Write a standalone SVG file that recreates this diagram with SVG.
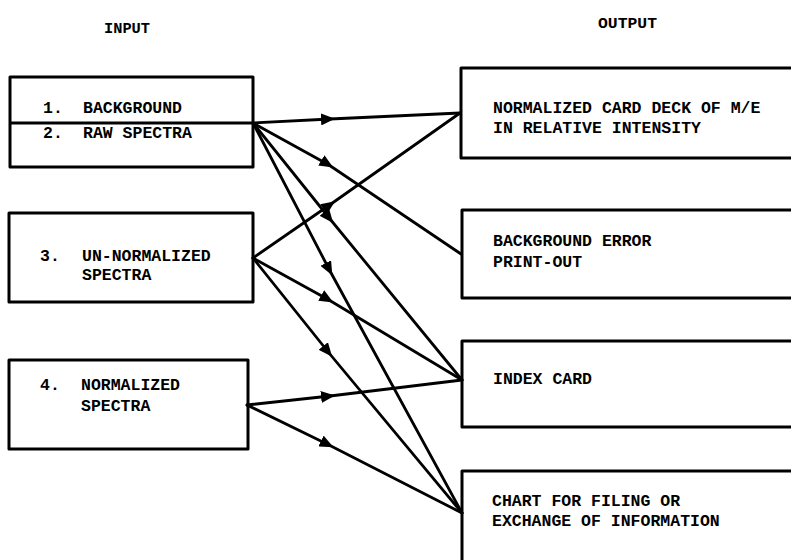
<svg xmlns="http://www.w3.org/2000/svg" width="791" height="560" viewBox="0 0 791 560">
<style>
.box{fill:none;stroke:#000;stroke-width:3;stroke-linejoin:round}
.con{fill:none;stroke:#000;stroke-width:2.8;stroke-linecap:round;marker-mid:url(#arr)}
text{font-family:"Liberation Mono","DejaVu Sans Mono",monospace;font-weight:bold;font-size:16.5px;fill:#000}
.hd{font-size:15px}
</style>
<defs>
<marker id="arr" viewBox="0 0 14 12" refX="9" refY="6" markerWidth="14" markerHeight="12" markerUnits="userSpaceOnUse" orient="auto">
<path d="M0,0 L14,6 L0,12 Z" fill="#000"/>
</marker>
</defs>
<rect width="791" height="560" fill="#fff"/>
<text class="hd" x="104" y="33" textLength="46" lengthAdjust="spacingAndGlyphs">INPUT</text>
<text class="hd" x="598" y="28" textLength="59" lengthAdjust="spacingAndGlyphs">OUTPUT</text>

<g id="in12">
<rect class="box" x="10" y="77" width="243" height="90"/>
<line x1="10" y1="123" x2="253" y2="123" stroke="#000" stroke-width="3"/>
<text x="43" y="113">1.</text><text x="83" y="113">BACKGROUND</text>
<text x="43" y="138">2.</text><text x="83" y="138">RAW SPECTRA</text>
</g>
<g id="in3">
<rect class="box" x="9" y="213" width="244" height="89"/>
<text x="40" y="261">3.</text><text x="82" y="261">UN-NORMALIZED</text>
<text x="82" y="280">SPECTRA</text>
</g>
<g id="in4">
<rect class="box" x="9" y="360" width="239" height="89"/>
<text x="40" y="390">4.</text><text x="81" y="390">NORMALIZED</text>
<text x="81" y="411">SPECTRA</text>
</g>

<g id="outA">
<path class="box" d="M800,68 L461,68 L461,158 L800,158"/>
<text x="493" y="113">NORMALIZED CARD DECK OF M/E</text>
<text x="493" y="133">IN RELATIVE INTENSITY</text>
</g>
<g id="outB">
<path class="box" d="M800,210 L462,210 L462,298 L800,298"/>
<text x="493" y="246">BACKGROUND ERROR</text>
<text x="493" y="267">PRINT-OUT</text>
</g>
<g id="outC">
<path class="box" d="M800,341 L462,341 L462,427 L800,427"/>
<text x="493" y="384">INDEX CARD</text>
</g>
<g id="outD">
<path class="box" d="M800,471 L462,471 L462,565"/>
<text x="492" y="506">CHART FOR FILING OR</text>
<text x="492" y="526">EXCHANGE OF INFORMATION</text>
</g>

<g id="connectors">
<path class="con" d="M253,123 L330,119 L460,113"/>
<path class="con" d="M253,123 L329,165 L461,254"/>
<path class="con" d="M253,123 L330,219 L462,380"/>
<path class="con" d="M253,123 L330,271 L462,513"/>
<path class="con" d="M253,258 L331,204 L460,113"/>
<path class="con" d="M253,258 L329,300 L462,380"/>
<path class="con" d="M253,258 L329,353 L462,513"/>
<path class="con" d="M247,405 L330,396 L462,380"/>
<path class="con" d="M247,405 L329,445 L462,513"/>
</g>
</svg>
